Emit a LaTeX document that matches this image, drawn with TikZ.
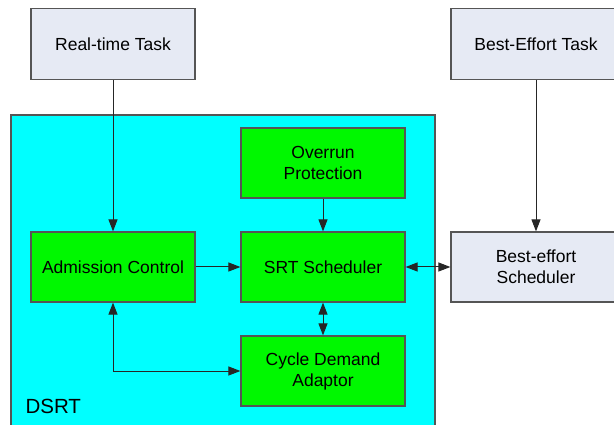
\documentclass[tikz,border=0pt]{standalone}
\usepackage{fontspec}
\setmainfont{Liberation Sans}
\usetikzlibrary{arrows.meta}
\definecolor{boxline}{HTML}{555555}
\definecolor{taskfill}{HTML}{E6EAF4}
\definecolor{dsrtfill}{HTML}{00FFFF}
\definecolor{modfill}{HTML}{00F800}
\tikzset{
  blk/.style={draw=boxline, line width=1.2pt, inner sep=0pt, align=center,
    font=\fontsize{17.5}{21}\selectfont},
  taskbox/.style={blk, fill=taskfill},
  modbox/.style={blk, fill=modfill},
  tip/.tip={Triangle[length=12pt,width=9pt]},
  conn/.style={line width=1pt, draw=black!85, -tip},
  bidir/.style={conn, tip-tip}
}
\begin{document}
\begin{tikzpicture}[x=1pt, y=-1pt]
\useasboundingbox (0,0) rectangle (614,425);
% outer DSRT container
\path[draw=boxline, line width=1.2pt, fill=dsrtfill] (11,115) rectangle (435,432);
\node[anchor=west, font=\fontsize{20.5}{24}\selectfont] (dsrt) at (22,406) {DSRT};
% external tasks and best-effort scheduler
\node[taskbox, minimum width=164pt, minimum height=71pt] (rt) at (113,44) {Real-time Task};
\node[taskbox, minimum width=170pt, minimum height=71pt] (be) at (536,44) {Best-Effort Task};
\node[taskbox, minimum width=170pt, minimum height=70pt] (bes) at (536,267) {Best-effort\\Scheduler};
% DSRT modules
\node[modbox, minimum width=164pt, minimum height=70pt] (adm) at (113,267) {Admission Control};
\node[modbox, minimum width=164pt, minimum height=70pt] (srt) at (323,267) {SRT Scheduler};
\node[modbox, minimum width=164pt, minimum height=70pt] (ovr) at (323,163) {Overrun\\Protection};
\node[modbox, minimum width=164pt, minimum height=70pt] (cda) at (323,371) {Cycle Demand\\Adaptor};
% connectors
\draw[conn] (rt.south -| adm.north) -- (adm.north);
\draw[conn] (be.south -| bes.north) -- (bes.north);
\draw[conn] (ovr) -- (srt);
\draw[conn] (adm) -- (srt);
\draw[bidir] (srt) -- (bes);
\draw[bidir] (srt) -- (cda);
\draw[bidir] (adm.south) |- (cda.west);
\end{tikzpicture}
\end{document}
